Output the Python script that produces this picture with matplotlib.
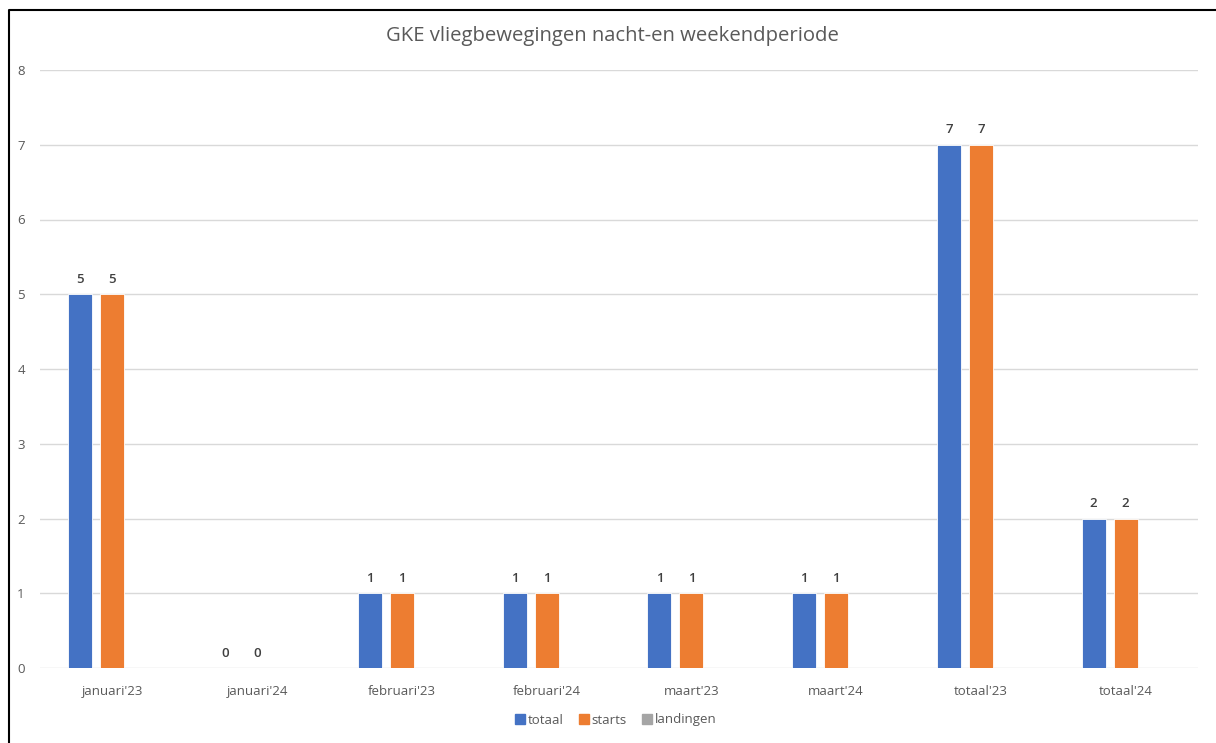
import numpy as np
import matplotlib.pyplot as plt
from matplotlib.lines import Line2D

plt.rcParams['font.family'] = ['Open Sans', 'DejaVu Sans']

categories = ["januari'23", "januari'24", "februari'23", "februari'24",
              "maart'23", "maart'24", "totaal'23", "totaal'24"]
totaal = [5, 0, 1, 1, 1, 1, 7, 2]
starts = [5, 0, 1, 1, 1, 1, 7, 2]
landingen = [np.nan] * 8  # geen waarden ingevuld

W, H = 1216, 743
fig = plt.figure(figsize=(W / 100, H / 100), dpi=100)
ax = fig.add_axes([40 / W, 1 - 668 / H, (1198 - 40) / W, (668 - 70) / H])

x = np.arange(len(categories))
bw = 0.166
off = 0.221
text_col = '#595959'

series = [('totaal', totaal, '#4472C4'),
          ('starts', starts, '#ED7D31'),
          ('landingen', landingen, '#A5A5A5')]
for i, (name, vals, col) in enumerate(series):
    pos = x + (i - 1) * off
    bars = ax.bar(pos, vals, width=bw, color=col, edgecolor='white',
                  linewidth=0.6, label=name, zorder=3)
    if name != 'landingen':
        ax.bar_label(bars, labels=['%d' % v for v in vals], padding=6,
                     fontsize=9.5, color='#404040', fontweight='semibold')

ax.set_xlim(-0.5, len(categories) - 0.5)
ax.set_ylim(0, 8)
ax.set_yticks(range(0, 9))
ax.set_xticks(x)
ax.set_xticklabels(categories)
ax.tick_params(axis='both', length=0, labelsize=9.5, labelcolor=text_col)
ax.tick_params(axis='x', pad=12)
ax.tick_params(axis='y', pad=11)
ax.grid(axis='y', color='#D9D9D9', linewidth=1, zorder=0)
for s in ax.spines.values():
    s.set_visible(False)

fig.text(612 / W, 1 - 36 / H, 'GKE vliegbewegingen nacht-en weekendperiode',
         ha='center', va='center', fontsize=14.6, color=text_col)

handles = [Line2D([], [], marker='s', linestyle='', markersize=7,
                  markerfacecolor=c, markeredgecolor=c) for _, _, c in series]
fig.legend(handles, [n for n, _, _ in series], loc='center',
           bbox_to_anchor=(615 / W, 1 - 720 / H), ncol=3, frameon=False,
           fontsize=9.5, labelcolor=text_col, handletextpad=0.1,
           columnspacing=1.0, handlelength=1.0)

# zwarte rand links en boven
fig.add_artist(Line2D([8.5 / W, 8.5 / W, 1], [0, 1 - 9.5 / H, 1 - 9.5 / H],
                      color='black', linewidth=1.5))

fig.savefig('out.png', dpi=100, facecolor='white')
